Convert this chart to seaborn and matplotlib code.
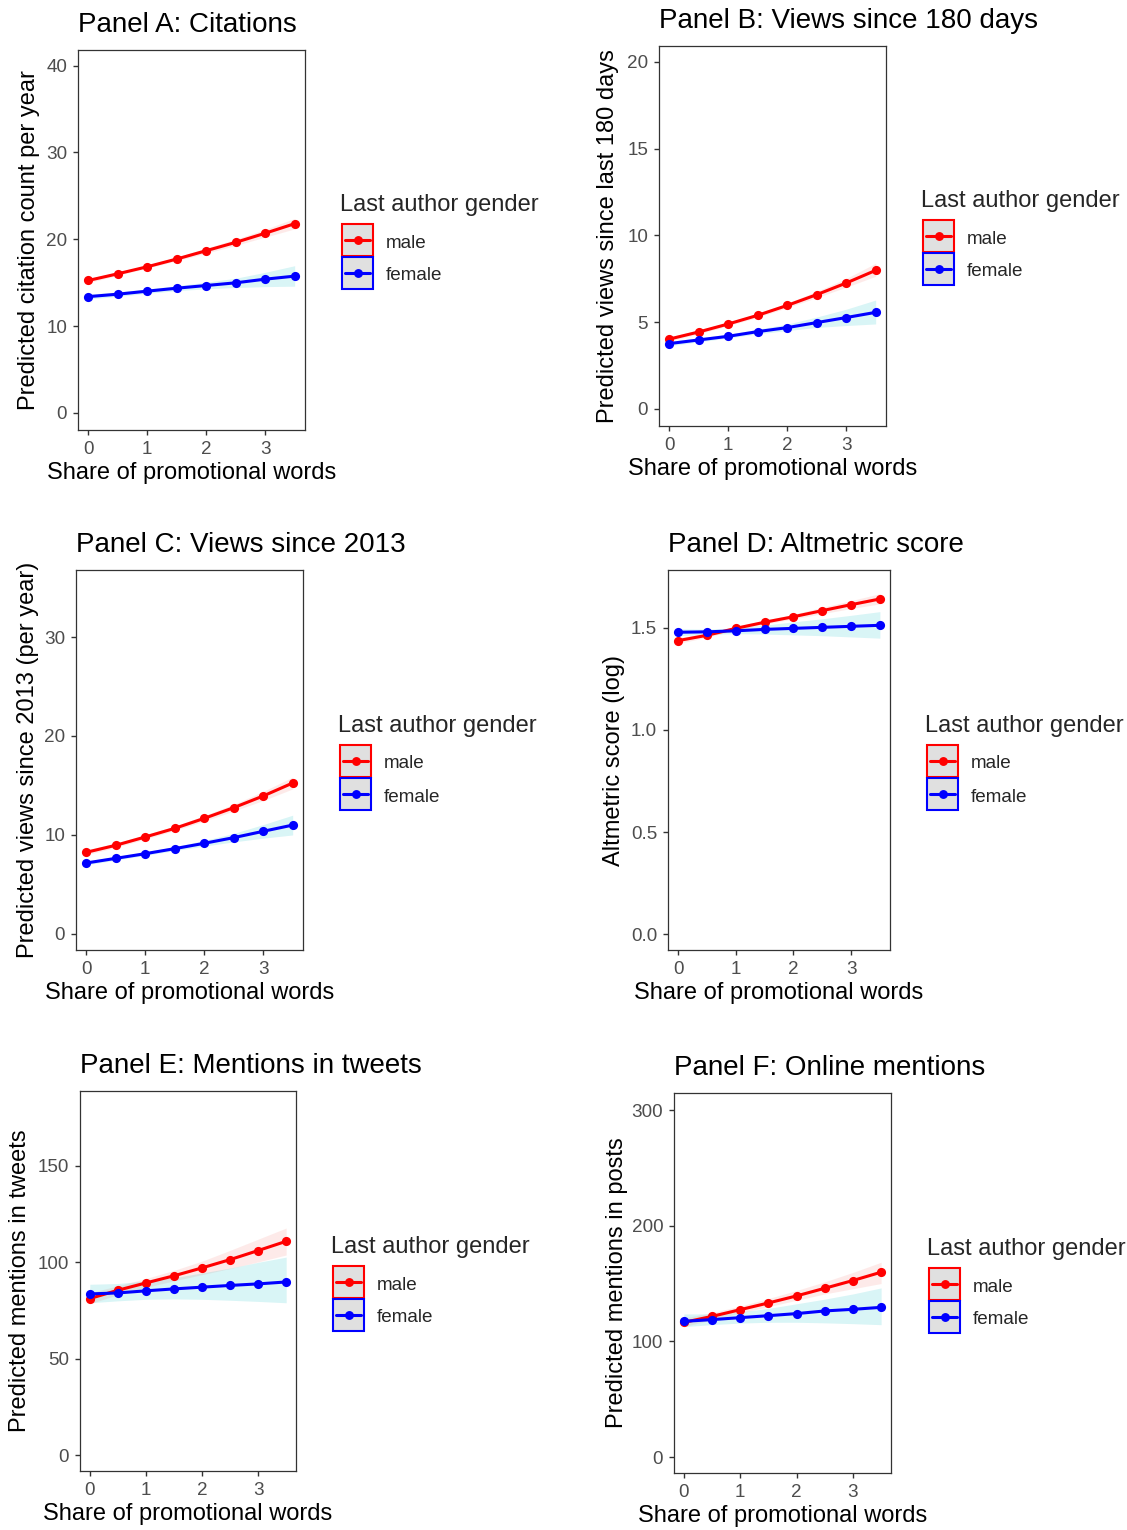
import numpy as np
import pandas as pd
import matplotlib
matplotlib.use("Agg")
import matplotlib.pyplot as plt
from matplotlib.patches import Rectangle
from matplotlib.lines import Line2D
import seaborn as sns

# x values shared by every panel
share = [0, 0.5, 1, 1.5, 2, 2.5, 3, 3.5]
genders = ["male", "female"]

# Panel A: citations
a_male = [15.26, 16.03, 16.84, 17.73, 18.69, 19.65, 20.70, 21.80]
a_male_lo = [15.00, 15.85, 16.68, 17.52, 18.40, 19.30, 20.25, 21.20]
a_male_hi = [15.50, 16.22, 17.02, 17.95, 18.98, 20.02, 21.15, 22.40]
a_female = [13.40, 13.68, 14.03, 14.37, 14.68, 14.99, 15.41, 15.76]
a_female_lo = [13.12, 13.42, 13.78, 14.08, 14.30, 14.45, 14.55, 14.60]
a_female_hi = [13.68, 13.94, 14.28, 14.66, 15.06, 15.52, 16.20, 16.96]

# Panel B: views since 180 days
b_male = [4.03, 4.44, 4.90, 5.40, 5.97, 6.59, 7.26, 7.99]
b_male_lo = [3.92, 4.33, 4.80, 5.29, 5.84, 6.42, 7.02, 7.65]
b_male_hi = [4.15, 4.55, 5.00, 5.51, 6.10, 6.78, 7.52, 8.40]
b_female = [3.77, 3.98, 4.19, 4.46, 4.69, 4.98, 5.27, 5.57]
b_female_lo = [3.64, 3.87, 4.09, 4.33, 4.52, 4.70, 4.81, 4.90]
b_female_hi = [3.90, 4.10, 4.31, 4.60, 4.89, 5.30, 5.75, 6.28]

# Panel C: views since 2013
c_male = [8.25, 8.96, 9.80, 10.67, 11.68, 12.76, 13.94, 15.25]
c_male_lo = [8.00, 8.74, 9.58, 10.45, 11.40, 12.42, 13.48, 14.65]
c_male_hi = [8.50, 9.18, 10.02, 10.90, 11.96, 13.10, 14.40, 15.85]
c_female = [7.17, 7.64, 8.11, 8.62, 9.16, 9.73, 10.37, 11.00]
c_female_lo = [6.98, 7.46, 7.94, 8.42, 8.88, 9.30, 9.68, 10.00]
c_female_hi = [7.36, 7.82, 8.28, 8.82, 9.45, 10.16, 11.05, 12.00]

# Panel D: altmetric score (log)
d_male = [1.438, 1.464, 1.498, 1.528, 1.555, 1.585, 1.614, 1.642]
d_male_lo = [1.424, 1.454, 1.490, 1.519, 1.544, 1.570, 1.595, 1.618]
d_male_hi = [1.452, 1.474, 1.506, 1.538, 1.567, 1.601, 1.634, 1.668]
d_female = [1.479, 1.481, 1.486, 1.493, 1.498, 1.503, 1.508, 1.513]
d_female_lo = [1.462, 1.468, 1.472, 1.470, 1.466, 1.462, 1.456, 1.450]
d_female_hi = [1.496, 1.494, 1.500, 1.514, 1.530, 1.545, 1.562, 1.580]

# Panel E: mentions in tweets
e_male = [81.2, 85.5, 89.3, 93.0, 97.1, 101.4, 106.1, 110.9]
e_male_lo = [78.5, 83.2, 87.0, 90.4, 93.6, 96.8, 100.2, 103.8]
e_male_hi = [84.2, 87.8, 91.6, 95.8, 100.6, 106.2, 112.0, 117.8]
e_female = [83.6, 84.1, 85.2, 86.2, 87.1, 88.0, 88.8, 89.8]
e_female_lo = [79.0, 80.0, 80.8, 81.0, 80.8, 80.3, 79.7, 79.0]
e_female_hi = [88.6, 89.0, 90.3, 92.0, 94.5, 97.0, 100.0, 102.7]

# Panel F: online mentions
f_male = [116.4, 121.6, 127.4, 133.2, 139.3, 145.9, 152.6, 159.8]
f_male_lo = [112.8, 118.6, 124.5, 130.0, 135.5, 141.0, 145.5, 150.0]
f_male_hi = [120.2, 124.8, 130.5, 137.0, 144.0, 151.5, 159.6, 168.4]
f_female = [117.3, 118.8, 120.5, 122.2, 124.0, 126.3, 127.7, 129.4]
f_female_lo = [112.7, 114.5, 115.8, 116.5, 116.5, 116.0, 115.3, 114.4]
f_female_hi = [123.7, 123.8, 125.5, 128.5, 132.5, 136.5, 141.0, 146.2]

titles = ["Panel A: Citations", "Panel B: Views since 180 days",
          "Panel C: Views since 2013", "Panel D: Altmetric score",
          "Panel E: Mentions in tweets", "Panel F: Online mentions"]
ylabels = ["Predicted citation count per year", "Predicted views since last 180 days",
           "Predicted views since 2013 (per year)", "Altmetric score (log)",
           "Predicted mentions in tweets", "Predicted mentions in posts"]
yticks = [[0, 10, 20, 30, 40], [0, 5, 10, 15, 20], [0, 10, 20, 30],
          [0.0, 0.5, 1.0, 1.5], [0, 50, 100, 150], [0, 100, 200, 300]]
xticks = [0, 1, 2, 3]
legend_title = "Last author gender"

line_colors = {"male": "#FF0000", "female": "#0000FF"}
ribbon_colors = {"male": "#F8766D", "female": "#00BFC4"}

series = [
    (a_male, a_male_lo, a_male_hi, a_female, a_female_lo, a_female_hi),
    (b_male, b_male_lo, b_male_hi, b_female, b_female_lo, b_female_hi),
    (c_male, c_male_lo, c_male_hi, c_female, c_female_lo, c_female_hi),
    (d_male, d_male_lo, d_male_hi, d_female, d_female_lo, d_female_hi),
    (e_male, e_male_lo, e_male_hi, e_female, e_female_lo, e_female_hi),
    (f_male, f_male_lo, f_male_hi, f_female, f_female_lo, f_female_hi),
]

# layout in pixels: panel box (left, top, right, bottom), ylim, ylabel centre x, legend (key x, title y)
boxes = [(78, 50, 305, 430), (659, 46, 886, 426), (76, 570, 303, 950),
         (668, 570, 890, 950), (80, 1091, 296, 1471), (674, 1093, 891, 1473)]
ylims = [(-1.96, 41.8), (-0.98, 20.92), (-1.62, 36.77),
         (-0.078, 1.784), (-8.3, 188.9), (-13.8, 314.7)]
ylabel_x = [29, 608, 28, 614, 20, 617]
legends = [(342, 201), (923, 197), (340, 722), (927, 722), (333, 1243), (929, 1245)]

sns.set_style("white")
plt.rcParams["font.family"] = ["Liberation Sans", "DejaVu Sans"]

W, H = 1127, 1530
fig = plt.figure(figsize=(W / 100, H / 100), dpi=100)
fig.patch.set_facecolor("white")


def fx(x):
    return x / W


def fy(y):
    return 1 - y / H


for i in range(6):
    l, t, r, b = boxes[i]
    ax = fig.add_axes([fx(l), fy(b), (r - l) / W, (b - t) / H])
    m, m_lo, m_hi, f, f_lo, f_hi = series[i]

    df = pd.DataFrame({
        "share": share * 2,
        "pred": m + f,
        "lo": m_lo + f_lo,
        "hi": m_hi + f_hi,
        "gender": ["male"] * len(share) + ["female"] * len(share),
    })

    for g in genders:
        sub = df[df.gender == g]
        ax.fill_between(sub.share, sub.lo, sub.hi, color=ribbon_colors[g],
                        alpha=0.15, lw=0, zorder=1)

    sns.lineplot(data=df, x="share", y="pred", hue="gender", hue_order=genders,
                 palette=line_colors, marker="o", markersize=6.6,
                 markeredgewidth=0, linewidth=2.2, errorbar=None,
                 legend=False, ax=ax, zorder=3)

    ax.set_xlim(-0.175, 3.675)
    ax.set_ylim(*ylims[i])
    ax.set_xticks(xticks)
    ax.set_yticks(yticks[i])
    if i == 3:
        ax.set_yticklabels(["%.1f" % v for v in yticks[i]])
    ax.tick_params(length=3.6, width=1.0, color="#333333", labelcolor="#4D4D4D",
                   labelsize=13.6, pad=4.2, left=True, bottom=True)
    for sp in ax.spines.values():
        sp.set_color("#333333")
        sp.set_linewidth(0.9)

    ax.set_title(titles[i], loc="left", fontsize=20, pad=13, color="black")
    ax.set_xlabel("Share of promotional words", fontsize=17, color="black")
    ax.xaxis.set_label_coords(0.5, -32 / (b - t))
    ax.set_ylabel(ylabels[i], fontsize=17, color="black", va="center")
    ax.yaxis.set_label_coords((ylabel_x[i] - l) / (r - l), 0.5)

    # legend drawn like the ggplot keys: grey box, coloured border, line + dot
    kx, ty = legends[i]
    fig.text(fx(kx - 2), fy(ty + 9.5), legend_title, fontsize=17, ha="left", va="baseline")
    for j, g in enumerate(genders):
        top = ty + 23 + 33 * j
        cy = top + 16
        fig.add_artist(Rectangle((fx(kx), fy(top + 32)), 31 / W, 32 / H,
                                 transform=fig.transFigure, facecolor="#E0E0E0",
                                 edgecolor=line_colors[g], lw=1.5))
        fig.add_artist(Line2D([fx(kx + 3), fx(kx + 28)], [fy(cy), fy(cy)],
                              transform=fig.transFigure, color=line_colors[g], lw=2.2))
        fig.add_artist(Line2D([fx(kx + 15.5)], [fy(cy)], transform=fig.transFigure,
                              color=line_colors[g], marker="o", markersize=6.4,
                              markeredgewidth=0, lw=0))
        fig.text(fx(kx + 44), fy(cy + 7.5), g, fontsize=13.6, ha="left", va="baseline")

fig.savefig("out.png", dpi=100, facecolor="white")
